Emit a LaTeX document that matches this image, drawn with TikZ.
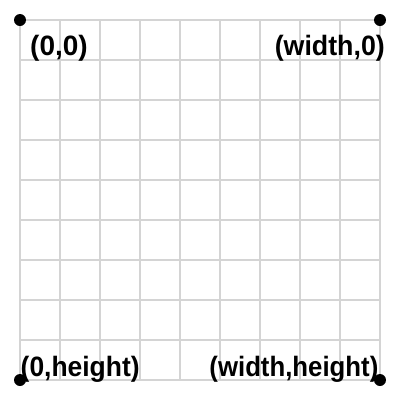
\documentclass[tikz,border=0pt]{standalone}
\usepackage{fontspec}
\usepackage{graphicx}
\setmainfont{Liberation Sans}
\begin{document}
\begin{tikzpicture}[x=1pt,y=-1pt,
  gridline/.style={draw=black!17, line width=1.5pt},
  corner/.style={circle, fill=black, inner sep=0pt, minimum size=12pt},
  lbl/.style={inner sep=0pt, font=\fontsize{28}{28}\selectfont\bfseries}]
\useasboundingbox (0,0) rectangle (400,400);
\foreach \k in {20,60,...,380} {
  \draw[gridline] (\k,20) -- (\k,380);
  \draw[gridline] (20,\k) -- (380,\k);
}
\node[corner] (tl) at (20,20) {};
\node[corner] (tr) at (380,20) {};
\node[corner] (bl) at (20,380) {};
\node[corner] (br) at (380,380) {};
\node[lbl, anchor=base west] (ltl) at (30,55.5) {(0,0)};
\node[lbl, anchor=base east] (ltr) at (385,55.5) {\scalebox{0.956}[1]{(width,0)}};
\node[lbl, anchor=base west] (lbl) at (20.5,376) {\scalebox{0.944}[1]{(0,height)}};
\node[lbl, anchor=base east] (lbr) at (378.5,376) {\scalebox{0.92}[1]{(width,height)}};
\end{tikzpicture}
\end{document}
